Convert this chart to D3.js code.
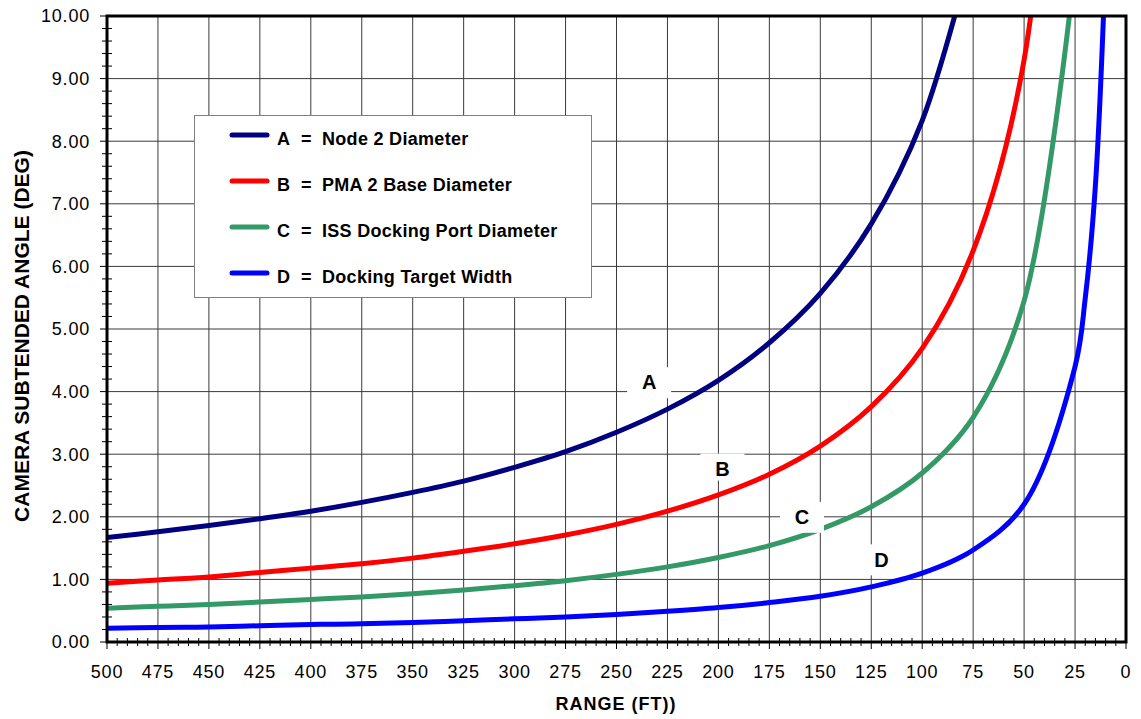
<!DOCTYPE html>
<html>
<head>
<meta charset="utf-8">
<script src="https://cdnjs.cloudflare.com/ajax/libs/d3/7.8.5/d3.min.js"></script>
<style>
  body { margin: 0; background: #fff; }
  svg { display: block; font-family: "Liberation Sans", Arial, Helvetica, sans-serif; }
</style>
</head>
<body>
<svg id="chart"></svg>
<script>
// range (ft) for every reading, left to right on the chart
const ranges = [500, 475, 450, 425, 400, 375, 350, 325, 300, 275, 250, 225, 200, 175, 150, 125, 100, 75, 50, 25, 20, 15, 10];

// subtended angle (deg); null = off the chart
const nodeDiameter  = [1.67, 1.76, 1.86, 1.97, 2.09, 2.23, 2.39, 2.57, 2.79, 3.04, 3.35, 3.72, 4.18, 4.78, 5.57, 6.68, 8.33, 11.1, null, null, null, null, null];
const pmaBase       = [0.94, 0.99, 1.04, 1.11, 1.18, 1.25, 1.34, 1.45, 1.57, 1.71, 1.88, 2.09, 2.35, 2.68, 3.13, 3.76, 4.69, 6.25, 9.30, 18.6, null, null, null];
const dockingPort   = [0.54, 0.57, 0.60, 0.64, 0.68, 0.72, 0.77, 0.83, 0.90, 0.98, 1.08, 1.20, 1.35, 1.54, 1.80, 2.16, 2.70, 3.59, 5.45, 10.8, null, null, null];
const targetWidth   = [0.22, 0.23, 0.24, 0.26, 0.28, 0.29, 0.31, 0.34, 0.37, 0.40, 0.44, 0.49, 0.55, 0.63, 0.73, 0.88, 1.10, 1.47, 2.20, 4.40, 5.49, 7.30, 10.9];

const seriesKeys   = ['A', 'B', 'C', 'D'];
const seriesNames  = ['Node 2 Diameter', 'PMA 2 Base Diameter', 'ISS Docking Port Diameter', 'Docking Target Width'];
const seriesValues = [nodeDiameter, pmaBase, dockingPort, targetWidth];
const seriesColors = ['#000080', '#ff0000', '#339966', '#0000ff'];

// where the curve letters sit (range, angle)
const labelRange = [234, 198, 159, 120];
const labelAngle = [4.15, 2.77, 2.00, 1.32];

const xTicks = d3.range(500, -1, -25);
const yTicks = d3.range(0, 10.01, 1);

const width = 1141, height = 719;
const margin = { top: 16, right: 15, bottom: 77, left: 107 };

const svg = d3.select('#chart')
    .attr('width', width)
    .attr('height', height);

const x = d3.scaleLinear().domain([500, 0]).range([margin.left, width - margin.right]);
const y = d3.scaleLinear().domain([0, 10]).range([height - margin.bottom, margin.top]);

const plotW = x(0) - x(500);
const plotH = y(0) - y(10);

svg.append('defs').append('clipPath').attr('id', 'plot-clip')
  .append('rect')
    .attr('x', x(500)).attr('y', y(10))
    .attr('width', plotW).attr('height', plotH);

// grid
const grid = svg.append('g').attr('stroke', '#3a3a3a').attr('stroke-width', 1);
grid.selectAll('line.v')
  .data(xTicks.filter(d => d > 0 && d < 500))
  .join('line')
    .attr('x1', d => x(d)).attr('x2', d => x(d))
    .attr('y1', y(0)).attr('y2', y(10));
grid.selectAll('line.h')
  .data(yTicks.filter(d => d > 0 && d < 10))
  .join('line')
    .attr('x1', x(500)).attr('x2', x(0))
    .attr('y1', d => y(d)).attr('y2', d => y(d));

// curves
const line = d3.line()
    .defined(d => d.v != null)
    .x(d => x(d.r))
    .y(d => y(d.v))
    .curve(d3.curveCatmullRom.alpha(0.5));

svg.append('g')
    .attr('clip-path', 'url(#plot-clip)')
  .selectAll('path')
  .data(seriesValues.map((vals, i) => ({ color: seriesColors[i], pts: ranges.map((r, j) => ({ r: r, v: vals[j] })) })))
  .join('path')
    .attr('fill', 'none')
    .attr('stroke', d => d.color)
    .attr('stroke-width', 5)
    .attr('d', d => line(d.pts));

// curve letters on white patches
const labels = svg.append('g');
seriesKeys.forEach((k, i) => {
  const cx = x(labelRange[i]), cy = y(labelAngle[i]);
  labels.append('rect')
      .attr('x', cx - 22).attr('y', cy - 15)
      .attr('width', 44).attr('height', i === 1 ? 27 : 31)
      .attr('fill', '#fff');
  labels.append('text')
      .attr('x', cx).attr('y', cy)
      .attr('dy', '0.36em')
      .attr('text-anchor', 'middle')
      .attr('font-size', 20)
      .attr('font-weight', 'bold')
      .text(k);
});

// legend
const legend = svg.append('g');
legend.append('rect')
    .attr('x', 194.5).attr('y', 115.5)
    .attr('width', 397).attr('height', 182)
    .attr('fill', '#fff')
    .attr('stroke', '#808080')
    .attr('stroke-width', 1);

const item = legend.selectAll('g.item')
  .data(seriesKeys)
  .join('g')
    .attr('transform', (d, i) => `translate(0,${135 + i * 46})`);
item.append('line')
    .attr('x1', 232).attr('x2', 267)
    .attr('stroke', (d, i) => seriesColors[i])
    .attr('stroke-width', 5)
    .attr('stroke-linecap', 'round');
item.append('text')
    .attr('x', 277).attr('y', 10)
    .attr('font-size', 18).attr('font-weight', 'bold')
    .text(d => d);
item.append('text')
    .attr('x', 301).attr('y', 10)
    .attr('font-size', 18).attr('font-weight', 'bold')
    .text('=');
item.append('text')
    .attr('x', 322).attr('y', 10)
    .attr('font-size', 18).attr('font-weight', 'bold')
    .attr('letter-spacing', 0.3)
    .text((d, i) => seriesNames[i]);

// frame
svg.append('rect')
    .attr('x', x(500)).attr('y', y(10))
    .attr('width', plotW).attr('height', plotH)
    .attr('fill', 'none')
    .attr('stroke', '#000')
    .attr('stroke-width', 3);

// ticks
const ticks = svg.append('g').attr('stroke', '#000').attr('stroke-width', 1);
ticks.selectAll('line.xm')
  .data(d3.range(500, -1, -5))
  .join('line')
    .attr('x1', d => x(d)).attr('x2', d => x(d))
    .attr('y1', d => d % 25 === 0 ? y(0) : y(0) - 4)
    .attr('y2', d => d % 25 === 0 ? y(0) + 7 : y(0) + 4);
ticks.selectAll('line.ym')
  .data(d3.range(0, 50.5, 1).map(d => d / 5))
  .join('line')
    .attr('y1', d => y(d)).attr('y2', d => y(d))
    .attr('x1', d => Math.abs(d - Math.round(d)) < 1e-6 ? x(500) - 7 : x(500) - 5)
    .attr('x2', d => Math.abs(d - Math.round(d)) < 1e-6 ? x(500) : x(500) + 5);

// tick labels
svg.append('g').selectAll('text')
  .data(xTicks)
  .join('text')
    .attr('x', d => x(d))
    .attr('y', 678)
    .attr('text-anchor', 'middle')
    .attr('font-size', 18)
    .attr('letter-spacing', 0.8)
    .text(d => d);

svg.append('g').selectAll('text')
  .data(yTicks)
  .join('text')
    .attr('x', 90)
    .attr('y', d => y(d))
    .attr('dy', '0.36em')
    .attr('text-anchor', 'end')
    .attr('font-size', 18)
    .attr('letter-spacing', 0.8)
    .text(d => d3.format('.2f')(d));

// axis titles
svg.append('text')
    .attr('x', 616).attr('y', 710)
    .attr('text-anchor', 'middle')
    .attr('font-size', 18)
    .attr('font-weight', 'bold')
    .attr('letter-spacing', 1)
    .text('RANGE (FT))');

svg.append('text')
    .attr('transform', 'translate(29,336) rotate(-90)')
    .attr('text-anchor', 'middle')
    .attr('font-size', 21)
    .attr('font-weight', 'bold')
    .text('CAMERA SUBTENDED ANGLE (DEG)');
</script>
</body>
</html>
